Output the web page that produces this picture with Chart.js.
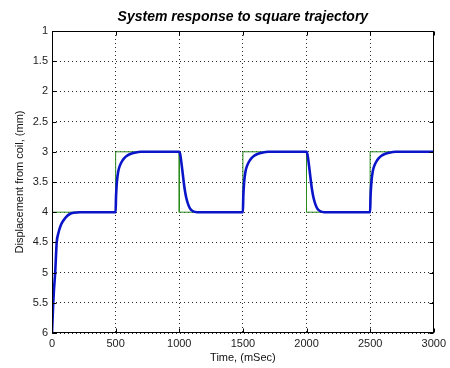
<!DOCTYPE html>
<html>
<head>
<meta charset="utf-8">
<script src="https://cdn.jsdelivr.net/npm/chart.js@4"></script>
<style>
  body { margin: 0; background: #fff; }
  #wrap { width: 450px; height: 368px; }
</style>
</head>
<body>
<div id="wrap"><canvas id="chart" width="450" height="368"></canvas></div>
<script>
// square trajectory (commanded position)
var trajTime = [0, 500, 500, 1000, 1000, 1500, 1500, 2000, 2000, 2500, 2500, 3000];
var trajPos  = [4, 4, 3, 3, 4, 4, 3, 3, 4, 4, 3, 3];

// system response
var respTime = [
  0, 5, 10, 15, 25, 37, 50, 63, 80, 110, 140, 170, 220, 500,
  503, 510, 520, 535, 555, 580, 610, 650, 700, 1000,
  1008, 1015, 1025, 1035, 1045, 1055, 1070, 1085, 1105, 1140, 1500,
  1503, 1510, 1520, 1535, 1555, 1580, 1610, 1650, 1700, 2000,
  2008, 2015, 2025, 2035, 2045, 2055, 2070, 2085, 2105, 2140, 2500,
  2503, 2510, 2520, 2535, 2555, 2580, 2610, 2650, 2700, 3000
];
var respPos = [
  6.0, 5.75, 5.5, 5.3, 5.0, 4.5, 4.35, 4.25, 4.17, 4.08, 4.03, 4.01, 4.0, 4.0,
  3.75, 3.5, 3.33, 3.22, 3.14, 3.08, 3.04, 3.015, 3.0, 3.0,
  3.05, 3.15, 3.32, 3.5, 3.65, 3.76, 3.87, 3.94, 3.98, 4.0, 4.0,
  3.75, 3.5, 3.33, 3.22, 3.14, 3.08, 3.04, 3.015, 3.0, 3.0,
  3.05, 3.15, 3.32, 3.5, 3.65, 3.76, 3.87, 3.94, 3.98, 4.0, 4.0,
  3.75, 3.5, 3.33, 3.22, 3.14, 3.08, 3.04, 3.015, 3.0, 3.0
];

var xTicks = [0, 500, 1000, 1500, 2000, 2500, 3000];
var yTicks = [1, 1.5, 2, 2.5, 3, 3.5, 4, 4.5, 5, 5.5, 6];

var titleText = 'System response to square trajectory';

function toPoints(xs, ys) {
  return xs.map(function(x, i) { return { x: x, y: ys[i] }; });
}

// frame, inward ticks and the plot title
var matlabFrame = {
  id: 'matlabFrame',
  afterDraw: function(chart) {
    var ctx = chart.ctx, a = chart.chartArea;
    var xs = chart.scales.x, ys = chart.scales.y;
    var L = Math.round(a.left) + 0.5, R = Math.round(a.right) - 0.5;
    var T = Math.round(a.top) + 0.5, B = Math.round(a.bottom) - 0.5;
    ctx.save();
    ctx.strokeStyle = '#000';
    ctx.lineWidth = 1;
    ctx.strokeRect(L, T, R - L, B - T);
    ctx.beginPath();
    xTicks.forEach(function(v) {
      var px = Math.round(xs.getPixelForValue(v)) + 0.5;
      ctx.moveTo(px, B); ctx.lineTo(px, B - 4);
      ctx.moveTo(px, T); ctx.lineTo(px, T + 4);
    });
    yTicks.forEach(function(v) {
      var py = Math.round(ys.getPixelForValue(v)) + 0.5;
      ctx.moveTo(L, py); ctx.lineTo(L + 4, py);
      ctx.moveTo(R, py); ctx.lineTo(R - 4, py);
    });
    ctx.stroke();
    ctx.fillStyle = '#000';
    ctx.font = 'italic bold 14px "Liberation Sans", Arial, sans-serif';
    ctx.textAlign = 'center';
    ctx.textBaseline = 'middle';
    ctx.fillText(titleText, (a.left + a.right) / 2, 17);
    ctx.restore();
  }
};

(function() {
  var ctx = document.getElementById('chart').getContext('2d');
  Chart.defaults.font.family = '"Liberation Sans", Arial, sans-serif';

  new Chart(ctx, {
    type: 'line',
    data: {
      datasets: [{
        label: 'response',
        data: toPoints(respTime, respPos),
        borderColor: '#0a14c8',
        borderWidth: 2.6,
        pointRadius: 0,
        cubicInterpolationMode: 'monotone',
        order: 0
      }, {
        label: 'trajectory',
        data: toPoints(trajTime, trajPos),
        borderColor: '#2a8a1e',
        borderWidth: 1,
        pointRadius: 0,
        tension: 0,
        order: 1
      }]
    },
    options: {
      responsive: false,
      animation: false,
      layout: { padding: { top: 31, right: 12, left: 0, bottom: 0 } },
      plugins: {
        legend: { display: false },
        tooltip: { enabled: false }
      },
      scales: {
        x: {
          type: 'linear',
          min: 0,
          max: 3000,
          afterBuildTicks: function(s) { s.ticks = xTicks.map(function(v) { return { value: v }; }); },
          afterFit: function(s) { s.height = 35; },
          grid: { color: 'rgba(0,0,0,0.85)', lineWidth: 1, drawTicks: false },
          border: { display: false, dash: [1, 3] },
          ticks: {
            color: '#222',
            font: { size: 11 },
            padding: 4,
            maxRotation: 0,
            callback: function(v) { return String(v); }
          },
          title: {
            display: true,
            text: 'Time, (mSec)',
            color: '#111',
            font: { size: 11 },
            padding: { top: 0, bottom: 3 }
          }
        },
        y: {
          type: 'linear',
          reverse: true,
          min: 1,
          max: 6,
          afterBuildTicks: function(s) { s.ticks = yTicks.map(function(v) { return { value: v }; }); },
          afterFit: function(s) { s.width = 52; },
          grid: { color: 'rgba(0,0,0,0.85)', lineWidth: 1, drawTicks: false },
          border: { display: false, dash: [1, 3] },
          ticks: {
            color: '#222',
            font: { size: 11 },
            padding: 4,
            callback: function(v) { return String(v); }
          },
          title: {
            display: true,
            text: 'Displacement from coil, (mm)',
            color: '#111',
            font: { size: 11 },
            padding: { top: 13, bottom: 0 }
          }
        }
      }
    },
    plugins: [matlabFrame]
  });
})();
</script>
</body>
</html>
